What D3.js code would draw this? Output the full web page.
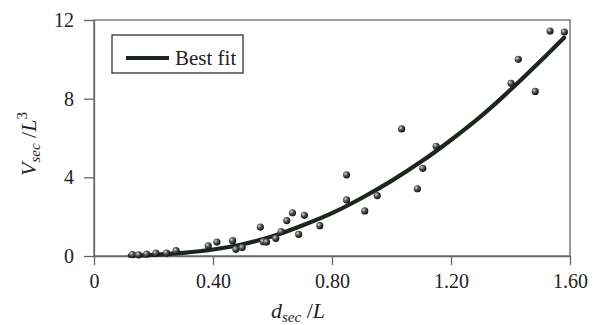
<!DOCTYPE html>
<html><head><meta charset="utf-8">
<script src="https://cdn.jsdelivr.net/npm/d3@7"></script>
<style>
html,body{margin:0;padding:0;background:#fff;}
svg{display:block;font-family:"Liberation Serif","DejaVu Serif",serif;}
</style></head>
<body><svg id="c" width="607" height="325"></svg>
<script>
// ---- data ----
const xTicks = [0, 0.4, 0.8, 1.2, 1.6];
const xTickLabels = ["0", "0.40", "0.80", "1.20", "1.60"];
const yTicks = [0, 4, 8, 12];
const yTickLabels = ["0", "4", "8", "12"];

const obsX = [0.129,0.150,0.177,0.208,0.244,0.276,0.384,0.413,0.466,0.477,0.498,0.559,0.569,0.580,0.611,0.629,0.648,0.667,0.707,0.688,0.759,0.849,0.849,0.910,0.952,1.034,1.087,1.105,1.150,1.402,1.426,1.483,1.533,1.581];
const obsY = [0.07,0.06,0.10,0.15,0.15,0.27,0.52,0.71,0.78,0.34,0.43,1.47,0.73,0.71,0.90,1.24,1.80,2.20,2.07,1.10,1.54,2.85,4.13,2.29,3.07,6.46,3.42,4.46,5.58,8.78,10.0,8.37,11.44,11.39];

const fitX = [0.12,0.2,0.3,0.4,0.5,0.6,0.7,0.8,0.9,1.0,1.1,1.2,1.3,1.4,1.5,1.58];
const fitY = [0.02,0.06,0.16,0.33,0.6,1.0,1.55,2.18,2.95,3.82,4.8,5.9,7.1,8.45,9.9,11.1];

// ---- layout ----
const svg = d3.select("#c");
const x = d3.scaleLinear().domain([0, 1.6]).range([94, 570]);
const y = d3.scaleLinear().domain([0, 12]).range([256, 20]);
const axisColor = "#666";

const defs = svg.append("defs");
const g = defs.append("radialGradient").attr("id","ball").attr("cx","35%").attr("cy","35%").attr("r","65%");
g.append("stop").attr("offset","0%").attr("stop-color","#d8d8d8");
g.append("stop").attr("offset","45%").attr("stop-color","#555");
g.append("stop").attr("offset","100%").attr("stop-color","#111");

// frame
svg.append("rect").attr("x", x(0)).attr("y", y(12)).attr("width", x(1.6)-x(0)).attr("height", y(0)-y(12))
  .attr("fill","none").attr("stroke", axisColor).attr("stroke-width",1.3);

// axes
const xAxis = svg.append("g").attr("transform",`translate(0,${y(0)})`)
  .call(d3.axisBottom(x).tickValues(xTicks).tickFormat((d,i)=>xTickLabels[i]).tickSize(9).tickSizeOuter(0).tickPadding(9));
const yAxis = svg.append("g").attr("transform",`translate(${x(0)},0)`)
  .call(d3.axisLeft(y).tickValues(yTicks).tickFormat((d,i)=>yTickLabels[i]).tickSize(10).tickSizeOuter(0).tickPadding(10));
[xAxis,yAxis].forEach(a=>{
  a.select(".domain").attr("stroke",axisColor).attr("stroke-width",1.3);
  a.selectAll(".tick line").attr("stroke",axisColor).attr("stroke-width",1.3);
  a.selectAll(".tick text").attr("fill","#222").style("font-size","20px").style("font-family","Liberation Serif");
});

// fit line
const line = d3.line().x((d,i)=>x(fitX[i])).y((d,i)=>y(fitY[i])).curve(d3.curveMonotoneX);
svg.append("path").datum(fitX).attr("d", line).attr("fill","none")
  .attr("stroke","#1c261c").attr("stroke-width",4.2).attr("stroke-linecap","round");

// points
svg.append("g").selectAll("circle").data(obsX).join("circle")
  .attr("cx",(d,i)=>x(obsX[i])).attr("cy",(d,i)=>y(obsY[i])).attr("r",3.6)
  .attr("fill","url(#ball)");

// legend
svg.append("rect").attr("x",112).attr("y",35).attr("width",131).attr("height",38)
  .attr("fill","#fff").attr("stroke","#333").attr("stroke-width",1.3);
svg.append("line").attr("x1",126).attr("x2",169).attr("y1",58).attr("y2",58)
  .attr("stroke","#1c261c").attr("stroke-width",4.2);
svg.append("text").attr("x",175).attr("y",64.5).attr("fill","#222").style("font-size","21px").text("Best fit");

// x title
const xt = svg.append("text").attr("x",271).attr("y",318).attr("fill","#222").style("font-size","22px");
xt.append("tspan").style("font-style","italic").text("d");
xt.append("tspan").style("font-style","italic").style("font-size","15px").attr("dy",4).text("sec");
xt.append("tspan").attr("dy",-4).text(" /");
xt.append("tspan").style("font-style","italic").text("L");

// y title
const yt = svg.append("text").attr("transform","translate(36,144) rotate(-90)").attr("text-anchor","middle")
  .attr("fill","#222").style("font-size","22px");
yt.append("tspan").style("font-style","italic").text("V");
yt.append("tspan").style("font-style","italic").style("font-size","15px").attr("dy",4).text("sec");
yt.append("tspan").attr("dy",-4).text(" /");
yt.append("tspan").style("font-style","italic").text("L");
yt.append("tspan").style("font-size","15px").attr("dy",-9).text("3");
</script></body></html>
